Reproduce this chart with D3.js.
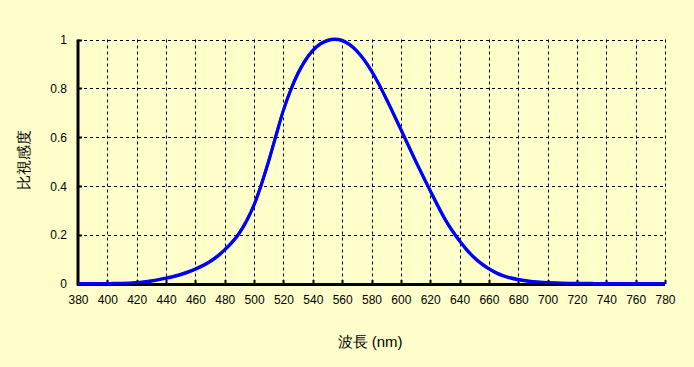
<!DOCTYPE html>
<html><head><meta charset="utf-8">
<script src="https://cdn.jsdelivr.net/npm/d3@7"></script>
<style>
html,body{margin:0;padding:0;background:#ffffcc;}
svg{display:block;}
text{font-family:Arial,"Liberation Sans",sans-serif;}
</style></head>
<body>
<script>
const wavelengths = d3.range(380, 781, 5);
const luminosity = [
0.000039,0.000064,0.00012,0.000217,0.000396,0.00064,0.00121,0.00218,
0.004,0.0073,0.0116,0.01684,0.023,0.0298,0.038,0.048,
0.06,0.0739,0.09098,0.1126,0.13902,0.1693,0.20802,0.2586,
0.323,0.4073,0.503,0.6082,0.71,0.7932,0.862,0.91485,
0.954,0.9803,0.99495,1.0,0.995,0.9786,0.952,0.9154,
0.87,0.8163,0.757,0.6949,0.631,0.5668,0.503,0.4412,
0.381,0.321,0.265,0.217,0.175,0.1382,0.107,0.0816,
0.061,0.04458,0.032,0.0232,0.017,0.01192,0.00821,0.005723,
0.004102,0.002929,0.002091,0.001484,0.001047,0.00074,0.00052,0.000361,
0.000249,0.000172,0.00012,0.0000848,0.00006,0.0000424,0.00003,0.0000212,0.000015];
const xTicks = d3.range(380, 781, 20);
const yTicks = [0, 0.2, 0.4, 0.6, 0.8, 1];
const xTitle = "波長 (nm)";
const yTitle = "比視感度";

const W = 694, H = 367;
const svg = d3.select("body").append("svg").attr("width", W).attr("height", H);
svg.append("rect").attr("width", W).attr("height", H).attr("fill", "#ffffcc");

const x = d3.scaleLinear().domain([380, 780]).range([78, 665]);
const y = d3.scaleLinear().domain([0, 1]).range([284, 39.5]);

// grid
const grid = svg.append("g").attr("stroke", "#000").attr("stroke-width", 1).attr("stroke-dasharray", "3,3");
grid.selectAll("line.v").data(xTicks.slice(1)).join("line")
  .attr("x1", d => Math.round(x(d)) + 0.5).attr("x2", d => Math.round(x(d)) + 0.5)
  .attr("y1", y(1)).attr("y2", y(0));
grid.selectAll("line.h").data(yTicks.slice(1)).join("line")
  .attr("x1", x(380)).attr("x2", x(780))
  .attr("y1", d => Math.round(y(d)) + 0.5).attr("y2", d => Math.round(y(d)) + 0.5);

// axes
const xAxis = d3.axisBottom(x).tickValues(xTicks).tickSize(0).tickPadding(11).tickFormat(d3.format("d"));
const gx = svg.append("g").attr("transform", `translate(0,${y(0)})`).call(xAxis);
gx.select(".domain").remove();
gx.selectAll("text").attr("font-size", 12).attr("fill", "#000").attr("font-family", "Arial, 'Liberation Sans', sans-serif");

const yAxis = d3.axisLeft(y).tickValues(yTicks).tickSize(0).tickPadding(11).tickFormat(d => d3.format("~g")(d));
const gy = svg.append("g").attr("transform", `translate(${x(380)},0)`).call(yAxis);
gy.select(".domain").remove();
gy.selectAll("text").attr("font-size", 12).attr("fill", "#000").attr("font-family", "Arial, 'Liberation Sans', sans-serif");

// inner tick marks
svg.append("g").selectAll("line").data(xTicks.slice(1)).join("line")
  .attr("x1", d => Math.round(x(d)) + 0.5).attr("x2", d => Math.round(x(d)) + 0.5)
  .attr("y1", y(0)).attr("y2", y(0) - 4).attr("stroke", "#000").attr("stroke-width", 2);
svg.append("g").selectAll("line").data(yTicks.slice(1)).join("line")
  .attr("x1", x(380)).attr("x2", x(380) + 4)
  .attr("y1", d => Math.round(y(d)) + 0.5).attr("y2", d => Math.round(y(d)) + 0.5)
  .attr("stroke", "#000").attr("stroke-width", 2);

// axis lines
svg.append("line").attr("x1", x(380)).attr("x2", x(380)).attr("y1", y(1)).attr("y2", y(0) + 1.5)
  .attr("stroke", "#000").attr("stroke-width", 3);

// curve
const data = wavelengths.map((w, i) => [w, luminosity[i]]);
svg.append("path").datum(data)
  .attr("fill", "none").attr("stroke", "#0000ff").attr("stroke-width", 3)
  .attr("d", d3.line().x(d => x(d[0])).y(d => y(d[1])).curve(d3.curveMonotoneX));

svg.append("line").attr("x1", x(380) - 1).attr("x2", x(780)).attr("y1", y(0) + 0.5).attr("y2", y(0) + 0.5)
  .attr("stroke", "#000").attr("stroke-width", 3);
// redraw the curve baseline portion above axis like reference (blue on top of axis)
svg.append("path").datum(data)
  .attr("fill", "none").attr("stroke", "#0000ff").attr("stroke-width", 3)
  .attr("d", d3.line().x(d => x(d[0])).y(d => y(d[1]) - 0.5).curve(d3.curveMonotoneX));

// titles
svg.append("text").attr("x", 370).attr("y", 347).attr("text-anchor", "middle")
  .attr("font-size", 15).attr("fill", "#000").attr("font-family", "'Noto Sans CJK JP', sans-serif").text(xTitle);
svg.append("text").attr("transform", "translate(29,160) rotate(-90)").attr("text-anchor", "middle")
  .attr("font-size", 15).attr("fill", "#000").attr("font-family", "'Noto Sans CJK JP', sans-serif").text(yTitle);
</script>
</body></html>
